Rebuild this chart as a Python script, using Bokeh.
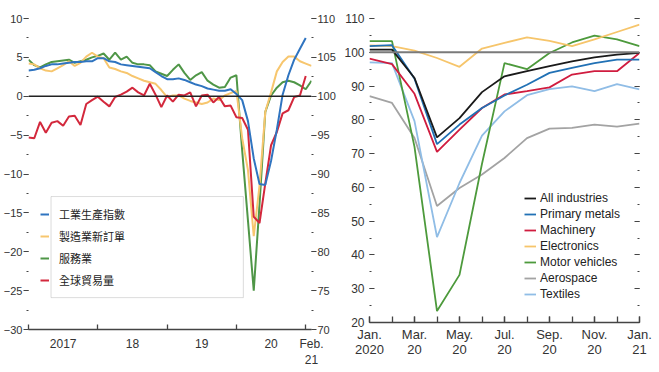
from bokeh.plotting import figure
from bokeh.models import (Range1d, LinearAxis, FixedTicker, SingleIntervalTicker, Span,
                          Legend, LegendItem, BoxAnnotation, CustomJSTickFormatter)
from bokeh.layouts import row
from bokeh.embed import file_html
from bokeh.resources import INLINE

# ---------------- Left panel data (monthly, Jan 2017 = 0) ----------------
ip_index = [3.3, 3.4, 3.6, 3.9, 4.1, 4.1, 4.2, 4.3, 4.4, 4.4, 4.5, 4.5,
            4.9, 4.9, 4.5, 4.4, 4.1, 4.0, 3.9, 3.8, 3.7, 3.6, 3.1, 2.6,
            2.2, 2.2, 2.3, 2.1, 1.8, 1.5, 1.3, 1.0, 0.85, 0.7, 0.7, 0.9,
            0.3, -0.5, -3.2, -8.0, -11.3, -11.4, -8.3, -4.3, 0.2, 2.7, 4.7, 6.1, 7.5]
new_orders = [4.2, 4.1, 3.6, 3.3, 3.2, 3.6, 4.0, 4.5, 3.9, 4.3, 5.1, 5.6,
              5.1, 4.9, 3.7, 3.5, 3.2, 3.0, 2.6, 2.3, 2.0, 1.8, 1.6, 0.8,
              -0.1, 0.1, 0.1, -0.3, -0.6, -0.8, -1.0, -0.8, -0.3, -0.5, 0.1, 0.4,
              0.7, -5.4, -9.5, -18.0, -11.5, -2.0, 0.5, 3.2, 4.4, 5.1, 5.1, 4.5, 4.2, 3.9]
services = [4.7, 4.0, 3.7, 4.1, 4.4, 4.5, 4.6, 4.7, 4.3, 4.5, 4.7, 5.0,
            5.2, 5.5, 4.7, 5.6, 4.7, 5.1, 4.3, 4.1, 4.1, 4.0, 3.2, 2.9,
            2.6, 3.4, 4.1, 3.0, 2.1, 2.7, 3.1, 2.0, 1.5, 1.1, 1.2, 2.4,
            2.7, -7.0, -16.0, -25.0, -13.9, -2.0, 0.1, 1.1, 1.8, 2.0, 1.8, 1.4, 0.9, 2.0]
trade = [-5.3, -5.4, -3.3, -4.7, -3.4, -3.2, -3.8, -2.6, -2.5, -3.7, -1.0, -0.5,
         -0.05, -0.7, -1.3, -0.1, 0.2, 0.6, 1.1, 0.5, 0.1, 1.6, 0.2, -1.4,
         0.1, -0.7, 0.2, 0.1, 0.5, -1.3, 0.1, 0.2, -0.8, -0.1, -1.3, -1.2,
         -2.7, -2.8, -4.3, -15.5, -16.3, -11.2, -6.3, -4.6, -2.2, -1.8, -0.1, 0.1, 2.6]
left_names = ["工業生產指數", "製造業新訂單", "服務業", "全球貿易量"]
left_tick_pos = [6, 18, 30, 42, 49]
left_tick_labels = ["2017", "18", "19", "20", "Feb.\n21"]
left_year_bounds = [0, 12, 24, 36, 48]

# ---------------- Right panel data (Jan 2020 = 0 ... Jan 2021 = 12) ----------------
all_industries = [100.8, 100.8, 92.4, 74.8, 80.5, 88.2, 92.9, 94.4, 95.9, 97.3, 98.5, 99.3, 99.8]
primary_metals = [101.8, 102.1, 92.2, 72.8, 78.6, 83.5, 87.2, 90.4, 93.9, 95.4, 96.8, 97.8, 97.8]
machinery = [98.1, 96.5, 87.7, 70.5, 77.1, 83.5, 87.5, 88.5, 89.6, 93.4, 94.4, 94.4, 99.8]
electronics = [102.0, 101.8, 100.5, 98.3, 95.7, 101.1, 102.8, 104.4, 103.4, 101.8, 103.8, 106.0, 108.2]
motor_vehicles = [103.3, 103.3, 72.0, 23.4, 34.1, 67.0, 96.8, 95.0, 99.8, 102.9, 104.9, 103.8, 101.8]
aerospace = [87.0, 85.0, 74.6, 54.5, 59.8, 63.8, 68.7, 74.6, 77.4, 77.6, 78.6, 78.0, 78.9]
textiles = [97.0, 96.8, 79.6, 45.3, 61.3, 75.3, 82.5, 87.3, 89.1, 89.9, 88.5, 90.6, 89.0]
right_names = ["All industries", "Primary metals", "Machinery", "Electronics",
               "Motor vehicles", "Aerospace", "Textiles"]
right_tick_pos = [0, 2, 4, 6, 8, 10, 12]
right_tick_labels = ["Jan.\n2020", "Mar.\n20", "May.\n20", "Jul.\n20", "Sep.\n20", "Nov.\n20", "Jan.\n21"]

FONT = "Liberation Sans"
TXT = "#333333"

# ======================= LEFT FIGURE =======================
p1 = figure(frame_width=283, frame_height=311, x_range=Range1d(0, 49), y_range=Range1d(-30, 10),
            output_backend="svg", toolbar_location=None,
            min_border_left=25, min_border_right=0, min_border_top=18, min_border_bottom=38)
p1.extra_y_ranges = {"r": Range1d(70, 110)}
p1.outline_line_color = None
p1.xgrid.grid_line_color = None
p1.ygrid.grid_line_color = None

xa = p1.xaxis[0]
xa.ticker = FixedTicker(ticks=left_tick_pos, minor_ticks=left_year_bounds)
xa.major_label_overrides = {k: v for k, v in zip(left_tick_pos, left_tick_labels)}
xa.major_tick_line_color = None
xa.major_tick_in = 0
xa.major_tick_out = 0
xa.minor_tick_in = 5
xa.minor_tick_out = 0
xa.minor_tick_line_color = "#444444"
xa.minor_tick_line_width = 1.3
xa.axis_line_color = "#444444"
xa.axis_line_width = 1.5
xa.major_label_standoff = 7
xa.major_label_text_font = FONT
xa.major_label_text_font_size = "12px"
xa.major_label_text_color = TXT

ya = p1.yaxis[0]
ya.ticker = SingleIntervalTicker(interval=5, num_minor_ticks=2)
ya.axis_line_color = None
ya.major_tick_in = 0
ya.major_tick_out = 5
ya.minor_tick_in = 0
ya.minor_tick_out = 2
ya.major_tick_line_color = "#444444"
ya.minor_tick_line_color = "#444444"
ya.major_label_standoff = 1
ya.major_label_text_font = FONT
ya.major_label_text_font_size = "11px"
ya.major_label_text_color = TXT

ra = LinearAxis(y_range_name="r", ticker=SingleIntervalTicker(interval=5, num_minor_ticks=2))
ra.axis_line_color = None
ra.major_tick_in = 0
ra.major_tick_out = 5
ra.minor_tick_in = 0
ra.minor_tick_out = 2
ra.major_tick_line_color = "#444444"
ra.minor_tick_line_color = "#444444"
ra.major_label_standoff = 1
ra.major_label_text_font = FONT
ra.major_label_text_font_size = "11px"
ra.major_label_text_color = TXT
p1.add_layout(ra, "right")

p1.add_layout(Span(location=0, dimension="width", line_color="#222222", line_width=1.6))

xl_ip = list(range(len(ip_index)))
xl_no = list(range(len(new_orders)))
xl_sv = list(range(len(services)))
xl_tr = list(range(len(trade)))
r_sv = p1.line(xl_sv, services, line_color="#4f9647", line_width=2)
r_no = p1.line(xl_no, new_orders, line_color="#f7c66e", line_width=2)
r_tr = p1.line(xl_tr, trade, line_color="#d3283c", line_width=2)
r_ip = p1.line(xl_ip, ip_index, line_color="#2f74c0", line_width=2)

p1.add_layout(BoxAnnotation(left=3.9, right=37.2, top=-12.9, bottom=-25.9,
                            fill_color="white", fill_alpha=1.0,
                            line_color="#8a8a8a", line_width=1))
leg1 = Legend(items=[LegendItem(label=left_names[0], renderers=[r_ip]),
                     LegendItem(label=left_names[1], renderers=[r_no]),
                     LegendItem(label=left_names[2], renderers=[r_sv]),
                     LegendItem(label=left_names[3], renderers=[r_tr])],
              location=(12, 38), orientation="vertical")
leg1.border_line_color = None
leg1.background_fill_alpha = 0
leg1.padding = 0
leg1.margin = 0
leg1.spacing = 0
leg1.glyph_width = 9
leg1.glyph_height = 22
leg1.label_height = 22
leg1.label_standoff = 10
leg1.label_text_font = "Noto Sans CJK TC"
leg1.label_text_font_size = "11px"
leg1.label_text_color = "#222222"
p1.add_layout(leg1, "center")

# ======================= RIGHT FIGURE =======================
p2 = figure(frame_width=270, frame_height=304, x_range=Range1d(0, 12), y_range=Range1d(20, 110),
            output_backend="svg", toolbar_location=None,
            min_border_left=31, min_border_right=18, min_border_top=17, min_border_bottom=42)
p2.outline_line_color = None
p2.xgrid.grid_line_color = None
p2.ygrid.grid_line_color = None

xb = p2.xaxis[0]
xb.ticker = FixedTicker(ticks=right_tick_pos, minor_ticks=list(range(13)))
xb.major_label_overrides = {k: v for k, v in zip(right_tick_pos, right_tick_labels)}
xb.major_tick_in = 6
xb.major_tick_out = 0
xb.minor_tick_in = 6
xb.minor_tick_out = 0
xb.major_tick_line_color = "#444444"
xb.minor_tick_line_color = "#444444"
xb.major_tick_line_width = 1.3
xb.minor_tick_line_width = 1.3
xb.axis_line_color = "#444444"
xb.axis_line_width = 1.5
xb.major_label_standoff = 4
xb.major_label_text_line_height = 1.05
xb.major_label_text_font = FONT
xb.major_label_text_font_size = "13px"
xb.major_label_text_color = TXT

yb = p2.yaxis[0]
yb.ticker = SingleIntervalTicker(interval=10, num_minor_ticks=2)
yb.axis_line_color = None
yb.major_tick_in = 5
yb.major_tick_out = 0
yb.minor_tick_in = 2
yb.minor_tick_out = 0
yb.major_tick_line_color = "#444444"
yb.minor_tick_line_color = "#444444"
yb.major_label_standoff = 5
yb.major_label_text_font = FONT
yb.major_label_text_font_size = "12px"
yb.major_label_text_color = TXT

rb = LinearAxis(ticker=SingleIntervalTicker(interval=10, num_minor_ticks=2),
                formatter=CustomJSTickFormatter(code="return ''"))
rb.axis_line_color = None
rb.major_tick_in = 5
rb.major_tick_out = 0
rb.minor_tick_in = 2
rb.minor_tick_out = 0
rb.major_tick_line_color = "#444444"
rb.minor_tick_line_color = "#444444"
rb.major_label_standoff = 0
p2.add_layout(rb, "right")

p2.add_layout(Span(location=100, dimension="width", line_color="#7a7a7a", line_width=2))

xr = list(range(13))
r_ae = p2.line(xr, aerospace, line_color="#a3a3a3", line_width=1.8)
r_te = p2.line(xr, textiles, line_color="#90bde6", line_width=1.8)
r_mv = p2.line(xr, motor_vehicles, line_color="#4d9a3c", line_width=1.8)
r_el = p2.line(xr, electronics, line_color="#f6c56b", line_width=1.8)
r_ma = p2.line(xr, machinery, line_color="#d01c3f", line_width=1.8)
r_pm = p2.line(xr, primary_metals, line_color="#2171b5", line_width=1.8)
r_ai = p2.line(xr, all_industries, line_color="#1a1a1a", line_width=1.8)

leg2 = Legend(items=[LegendItem(label=right_names[0], renderers=[r_ai]),
                     LegendItem(label=right_names[1], renderers=[r_pm]),
                     LegendItem(label=right_names[2], renderers=[r_ma]),
                     LegendItem(label=right_names[3], renderers=[r_el]),
                     LegendItem(label=right_names[4], renderers=[r_mv]),
                     LegendItem(label=right_names[5], renderers=[r_ae]),
                     LegendItem(label=right_names[6], renderers=[r_te])],
              location=(155, 20), orientation="vertical")
leg2.border_line_color = None
leg2.background_fill_alpha = 0
leg2.padding = 0
leg2.margin = 0
leg2.spacing = 0
leg2.glyph_width = 12
leg2.glyph_height = 16
leg2.label_height = 16
leg2.label_standoff = 4
leg2.label_text_font = FONT
leg2.label_text_font_size = "12px"
leg2.label_text_color = "#222222"
p2.add_layout(leg2, "center")

layout = row(p1, p2)
open("out.html", "w").write(file_html(layout, INLINE))
